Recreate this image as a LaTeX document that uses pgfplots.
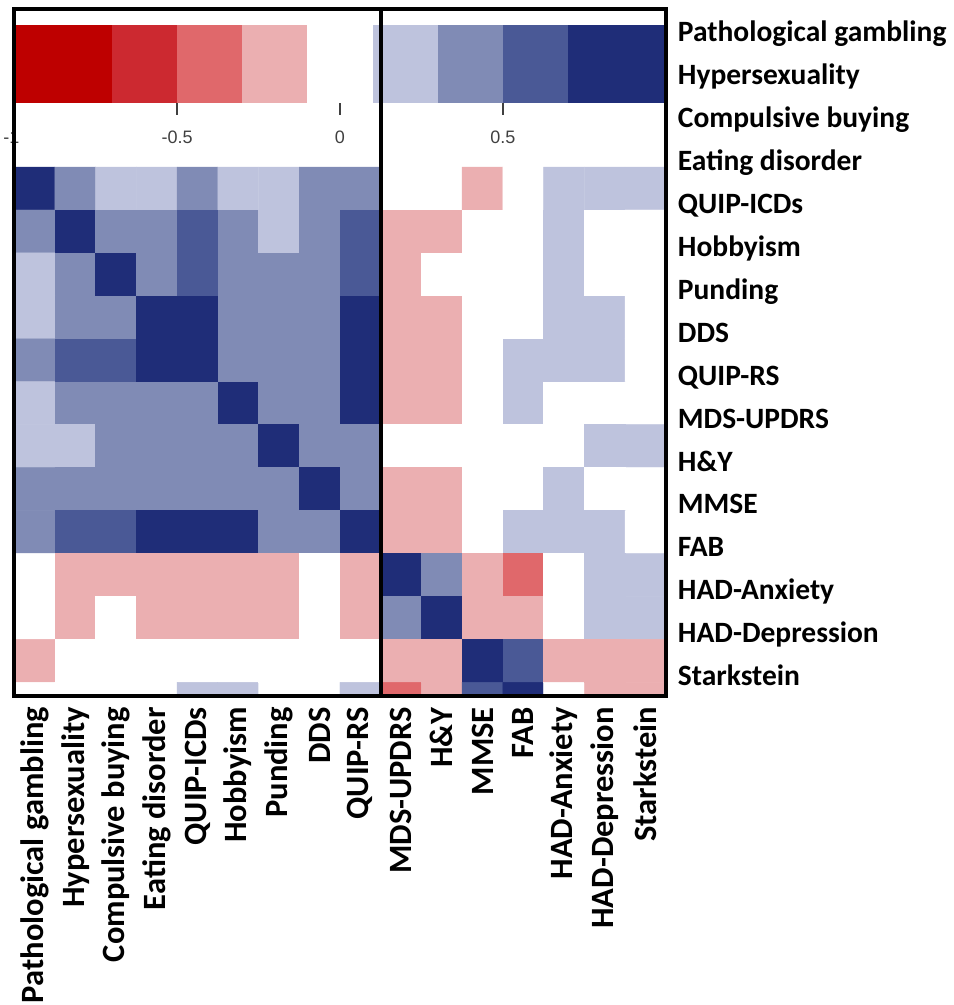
\documentclass[border=0pt]{standalone}
\usepackage{fontspec}
\setmainfont{Carlito}
\newfontfamily\tickfont{Liberation Sans}
\usepackage{pgfplots}
\usepackage{pgfplotstable}
\pgfplotsset{compat=1.18}

\definecolor{rd4}{RGB}{190,0,0}
\definecolor{rd3}{RGB}{204,41,48}
\definecolor{rd2}{RGB}{224,104,107}
\definecolor{rd1}{RGB}{235,175,177}
\definecolor{bl1}{RGB}{190,195,221}
\definecolor{bl2}{RGB}{128,139,181}
\definecolor{bl3}{RGB}{74,89,150}
\definecolor{bl4}{RGB}{31,45,120}
\definecolor{cbtext}{RGB}{64,64,64}

% correlation class per cell: -4 (strong negative) ... 4 (strong positive)
% c = column, r = visible row of the heat map
\pgfplotstableread[row sep=\\]{
c r v\\
1 1 4\\ 2 1 2\\ 3 1 1\\ 4 1 1\\ 5 1 2\\ 6 1 1\\ 7 1 1\\ 8 1 2\\ 9 1 2\\ 10 1 0\\ 11 1 0\\ 12 1 -1\\ 13 1 0\\ 14 1 1\\ 15 1 1\\ 16 1 1\\
1 2 2\\ 2 2 4\\ 3 2 2\\ 4 2 2\\ 5 2 3\\ 6 2 2\\ 7 2 1\\ 8 2 2\\ 9 2 3\\ 10 2 -1\\ 11 2 -1\\ 12 2 0\\ 13 2 0\\ 14 2 1\\ 15 2 0\\ 16 2 0\\
1 3 1\\ 2 3 2\\ 3 3 4\\ 4 3 2\\ 5 3 3\\ 6 3 2\\ 7 3 2\\ 8 3 2\\ 9 3 3\\ 10 3 -1\\ 11 3 0\\ 12 3 0\\ 13 3 0\\ 14 3 1\\ 15 3 0\\ 16 3 0\\
1 4 1\\ 2 4 2\\ 3 4 2\\ 4 4 4\\ 5 4 4\\ 6 4 2\\ 7 4 2\\ 8 4 2\\ 9 4 4\\ 10 4 -1\\ 11 4 -1\\ 12 4 0\\ 13 4 0\\ 14 4 1\\ 15 4 1\\ 16 4 0\\
1 5 2\\ 2 5 3\\ 3 5 3\\ 4 5 4\\ 5 5 4\\ 6 5 2\\ 7 5 2\\ 8 5 2\\ 9 5 4\\ 10 5 -1\\ 11 5 -1\\ 12 5 0\\ 13 5 1\\ 14 5 1\\ 15 5 1\\ 16 5 0\\
1 6 1\\ 2 6 2\\ 3 6 2\\ 4 6 2\\ 5 6 2\\ 6 6 4\\ 7 6 2\\ 8 6 2\\ 9 6 4\\ 10 6 -1\\ 11 6 -1\\ 12 6 0\\ 13 6 1\\ 14 6 0\\ 15 6 0\\ 16 6 0\\
1 7 1\\ 2 7 1\\ 3 7 2\\ 4 7 2\\ 5 7 2\\ 6 7 2\\ 7 7 4\\ 8 7 2\\ 9 7 2\\ 10 7 0\\ 11 7 0\\ 12 7 0\\ 13 7 0\\ 14 7 0\\ 15 7 1\\ 16 7 1\\
1 8 2\\ 2 8 2\\ 3 8 2\\ 4 8 2\\ 5 8 2\\ 6 8 2\\ 7 8 2\\ 8 8 4\\ 9 8 2\\ 10 8 -1\\ 11 8 -1\\ 12 8 0\\ 13 8 0\\ 14 8 1\\ 15 8 0\\ 16 8 0\\
1 9 2\\ 2 9 3\\ 3 9 3\\ 4 9 4\\ 5 9 4\\ 6 9 4\\ 7 9 2\\ 8 9 2\\ 9 9 4\\ 10 9 -1\\ 11 9 -1\\ 12 9 0\\ 13 9 1\\ 14 9 1\\ 15 9 1\\ 16 9 0\\
1 10 0\\ 2 10 -1\\ 3 10 -1\\ 4 10 -1\\ 5 10 -1\\ 6 10 -1\\ 7 10 -1\\ 8 10 0\\ 9 10 -1\\ 10 10 4\\ 11 10 2\\ 12 10 -1\\ 13 10 -2\\ 14 10 0\\ 15 10 1\\ 16 10 1\\
1 11 0\\ 2 11 -1\\ 3 11 0\\ 4 11 -1\\ 5 11 -1\\ 6 11 -1\\ 7 11 -1\\ 8 11 0\\ 9 11 -1\\ 10 11 2\\ 11 11 4\\ 12 11 -1\\ 13 11 -1\\ 14 11 0\\ 15 11 1\\ 16 11 1\\
1 12 -1\\ 2 12 0\\ 3 12 0\\ 4 12 0\\ 5 12 0\\ 6 12 0\\ 7 12 0\\ 8 12 0\\ 9 12 0\\ 10 12 -1\\ 11 12 -1\\ 12 12 4\\ 13 12 3\\ 14 12 -1\\ 15 12 -1\\ 16 12 -1\\
1 13 0\\ 2 13 0\\ 3 13 0\\ 4 13 0\\ 5 13 1\\ 6 13 1\\ 7 13 0\\ 8 13 0\\ 9 13 1\\ 10 13 -2\\ 11 13 -1\\ 12 13 3\\ 13 13 4\\ 14 13 0\\ 15 13 -1\\ 16 13 -1\\
}\cells

\begin{document}
\begin{tikzpicture}
\begin{axis}[
    scale only axis,
    width=651.5bp, height=687bp,
    xmin=0, xmax=16, ymin=0, ymax=16,
    y dir=reverse,
    axis on top,
    clip mode=individual,
    axis line style={line width=4bp},
    colormap={corr}{rgb255=(190,0,0) rgb255=(204,41,48) rgb255=(224,104,107)
        rgb255=(235,175,177) rgb255=(255,255,255) rgb255=(190,195,221)
        rgb255=(128,139,181) rgb255=(74,89,150) rgb255=(31,45,120)},
    point meta min=-4, point meta max=4,
    major tick length=0pt,
    xtick={0.5,1.5,...,15.5},
    xticklabels={Pathological gambling, Hypersexuality, Compulsive buying,
        Eating disorder, QUIP-ICDs, Hobbyism, Punding, DDS, QUIP-RS,
        MDS-UPDRS, H\&Y, MMSE, FAB, HAD-Anxiety, HAD-Depression, Starkstein},
    ytick={0.76,1.76,...,15.76},
    yticklabels={Pathological gambling, Hypersexuality, Compulsive buying,
        Eating disorder, QUIP-ICDs, Hobbyism, Punding, DDS, QUIP-RS,
        MDS-UPDRS, H\&Y, MMSE, FAB, HAD-Anxiety, HAD-Depression, Starkstein},
    yticklabel pos=right,
    xticklabel shift=11bp,
    yticklabel shift=12bp,
    xticklabel style={rotate=90, anchor=east, inner sep=0pt,
        font=\fontsize{32.5bp}{36bp}\selectfont\bfseries},
    yticklabel style={anchor=base west, inner sep=0pt,
        font=\fontsize{29.5bp}{33bp}\selectfont\bfseries},
]
\addplot[matrix plot*, mesh/cols=16, point meta=explicit]
    table[x expr=\thisrow{c}-0.5, y expr=\thisrow{r}+3.18, meta=v] {\cells};

% colour key
\addplot[fill=rd4, draw=none] coordinates {(0,0.37) (2.4,0.37) (2.4,2.19) (0,2.19)};
\addplot[fill=rd3, draw=none] coordinates {(2.4,0.37) (4,0.37) (4,2.19) (2.4,2.19)};
\addplot[fill=rd2, draw=none] coordinates {(4,0.37) (5.6,0.37) (5.6,2.19) (4,2.19)};
\addplot[fill=rd1, draw=none] coordinates {(5.6,0.37) (7.2,0.37) (7.2,2.19) (5.6,2.19)};
\addplot[fill=white, draw=none] coordinates {(7.2,0.37) (8.8,0.37) (8.8,2.19) (7.2,2.19)};
\addplot[fill=bl1, draw=none] coordinates {(8.8,0.37) (10.4,0.37) (10.4,2.19) (8.8,2.19)};
\addplot[fill=bl2, draw=none] coordinates {(10.4,0.37) (12,0.37) (12,2.19) (10.4,2.19)};
\addplot[fill=bl3, draw=none] coordinates {(12,0.37) (13.6,0.37) (13.6,2.19) (12,2.19)};
\addplot[fill=bl4, draw=none] coordinates {(13.6,0.37) (16,0.37) (16,2.19) (13.6,2.19)};

\draw[cbtext, line width=1.5bp] (axis cs:4,2.19) -- (axis cs:4,2.47);
\draw[cbtext, line width=1.5bp] (axis cs:8,2.19) -- (axis cs:8,2.47);
\draw[cbtext, line width=1.5bp] (axis cs:12,2.19) -- (axis cs:12,2.47);
\node[text=cbtext, font=\fontsize{18bp}{20bp}\tickfont] at (axis cs:-0.07,2.98) {-1};
\node[text=cbtext, font=\fontsize{18bp}{20bp}\tickfont] at (axis cs:4,2.98) {-0.5};
\node[text=cbtext, font=\fontsize{18bp}{20bp}\tickfont] at (axis cs:8,2.98) {0};
\node[text=cbtext, font=\fontsize{18bp}{20bp}\tickfont] at (axis cs:12,2.98) {0.5};

\addplot[black, line width=4bp] coordinates {(9,0) (9,16)};

\path (axis cs:-0.3315,-0.2096) rectangle (axis cs:23.072,23.195);
\end{axis}
\end{tikzpicture}
\end{document}
